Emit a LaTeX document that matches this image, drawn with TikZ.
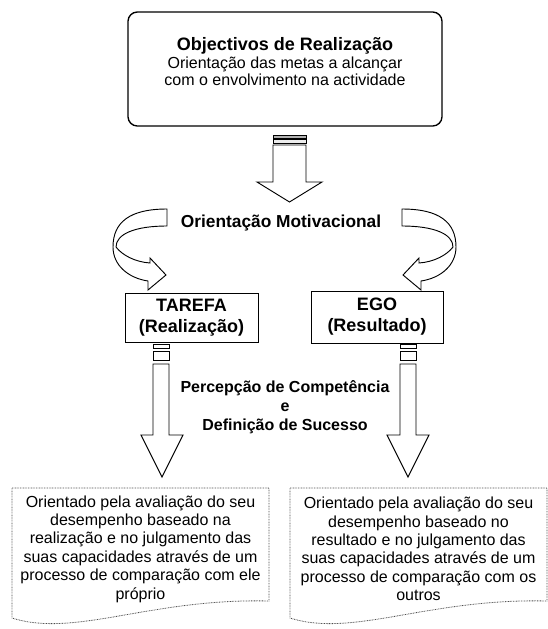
\documentclass[tikz,border=0pt]{standalone}
\usepackage{fontspec}
\setmainfont{Liberation Sans}

\tikzset{
  frame/.style={draw=black, line width=0.75pt},
  blockarrow/.style={draw=black, line width=0.7pt, fill=white},
  stripe/.style={draw=black, line width=0.6pt, fill=gray!60},
  docbox/.style={draw=black!70, line width=0.6pt, dash pattern=on 0.6pt off 0.6pt},
  txt/.style={inner sep=0pt, align=center, font=\fontsize{12}{13.1}\selectfont},
  boldtxt/.style={inner sep=0pt, align=center, font=\fontsize{12}{14.25}\selectfont\bfseries}
}

\begin{document}
\begin{tikzpicture}[x=0.75pt,y=0.75pt,yscale=-1,xscale=1]
\useasboundingbox (0,0) rectangle (548,629);

%Shape: Rounded Rect
\draw[frame, line width=1pt, rounded corners=7pt] (128,12) rectangle (442,126);
% Text Node
\node[txt] (obj) at (285,62) {{\fontsize{13.5}{14}\selectfont\bfseries Objectivos de Realização}\\Orientação das metas a alcançar\\com o envolvimento na actividade};

%Shape: Striped Down Arrow
\draw[stripe] (273,135) rectangle (306,138);
\draw[blockarrow, fill=gray!15] (273,139.5) rectangle (306,143);
\draw[blockarrow] (273,145) -- (273,182) -- (257,182) -- (289.5,202) -- (322,182) -- (306,182) -- (306,145) -- cycle;

% Text Node
\node[boldtxt, font=\fontsize{13}{14}\selectfont\bfseries] (motiv) at (281,223) {Orientação Motivacional};

%Shape: Curved Arrow (left)
\draw[blockarrow] (167,209) .. controls (130,209) and (113,222) .. (113,247) .. controls (113,265) and (128,278) .. (148,281) -- (148,290) -- (166,275) -- (150,258) -- (150,263) .. controls (135,262) and (122,255) .. (116,247) .. controls (116,234) and (135,226) .. (167,226) -- cycle;
%Shape: Curved Arrow (right)
\begin{scope}[shift={(569,0)}, xscale=-1]
\draw[blockarrow] (167,209) .. controls (130,209) and (113,222) .. (113,247) .. controls (113,265) and (128,278) .. (148,281) -- (148,290) -- (166,275) -- (150,258) -- (150,263) .. controls (135,262) and (122,255) .. (116,247) .. controls (116,234) and (135,226) .. (167,226) -- cycle;
\end{scope}

%Shape: Rectangle
\draw[frame] (125,293) rectangle (258,342);
% Text Node
\node[boldtxt, font=\fontsize{13.5}{15.75}\selectfont\bfseries] (tarefa) at (191.5,317.5) {TAREFA\\(Realização)};
%Shape: Rectangle
\draw[frame] (311,291) rectangle (443,343);
% Text Node
\node[boldtxt, font=\fontsize{13.5}{15.75}\selectfont\bfseries] (ego) at (377,317) {EGO\\(Resultado)};

%Shape: Striped Down Arrow (left)
\draw[blockarrow] (153,344) rectangle (169,348);
\draw[blockarrow] (153,351) rectangle (169,360);
\draw[blockarrow] (153,364) -- (153,435) -- (141,435) -- (162,477) -- (183,435) -- (169,435) -- (169,364) -- cycle;
%Shape: Striped Down Arrow (right)
\draw[blockarrow] (400,344) rectangle (416,348);
\draw[blockarrow] (400,351) rectangle (416,360);
\draw[blockarrow] (400,364) -- (400,435) -- (387,435) -- (408,477) -- (429,435) -- (416,435) -- (416,364) -- cycle;

% Text Node
\node[boldtxt] (percep) at (285,407) {Percepção de Competência\\e\\Definição de Sucesso};

%Shape: Document (left)
\draw[docbox] (12,488) -- (269,488) -- (269,601) .. controls (150,598) and (75,638) .. (12,618) -- cycle;
% Text Node
\node[txt, font=\fontsize{12}{13.8}\selectfont] (taskdef) at (140.5,549) {Orientado pela avaliação do seu\\desempenho baseado na\\realização e no julgamento das\\suas capacidades através de um\\processo de comparação com ele\\próprio};
%Shape: Document (right)
\draw[docbox] (290,488) -- (547,488) -- (547,601) .. controls (428,598) and (353,638) .. (290,618) -- cycle;
% Text Node
\node[txt, font=\fontsize{12}{13.8}\selectfont] (egodef) at (418.5,549) {Orientado pela avaliação do seu\\desempenho baseado no\\resultado e no julgamento das\\suas capacidades através de um\\processo de comparação com os\\outros};

\end{tikzpicture}
\end{document}
